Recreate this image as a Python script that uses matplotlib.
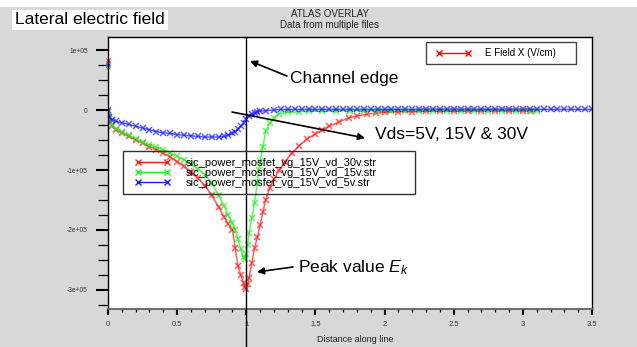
import matplotlib
matplotlib.use("Agg")
import matplotlib.pyplot as plt
from matplotlib.lines import Line2D
from matplotlib.patches import Rectangle

plt.rcParams['font.family'] = ['Liberation Sans', 'DejaVu Sans']
plt.rcParams['mathtext.fontset'] = 'custom'
plt.rcParams['mathtext.it'] = 'Liberation Sans:italic'
plt.rcParams['mathtext.rm'] = 'Liberation Sans'

# data (distance in um, field in V/cm)
red_x = [0, 0.01, 0.03, 0.06, 0.1, 0.15, 0.2, 0.25, 0.3, 0.35, 0.4, 0.45, 0.5, 0.55,
         0.6, 0.65, 0.7, 0.75, 0.8, 0.84, 0.87, 0.9, 0.92, 0.94, 0.96, 0.98, 0.99, 1.0,
         1.01, 1.02, 1.04, 1.06, 1.08, 1.1, 1.12, 1.14, 1.17, 1.2, 1.24, 1.28, 1.33,
         1.38, 1.44, 1.5, 1.55, 1.6, 1.67, 1.74, 1.8, 1.87, 1.94, 2.0, 2.1, 2.2, 2.3,
         2.4, 2.5, 2.6, 2.7, 2.8, 2.9, 3.0, 3.06]
red_y = [-0.03e5, -0.15e5, -0.27e5, -0.33e5, -0.38e5, -0.44e5, -0.50e5, -0.55e5,
         -0.61e5, -0.66e5, -0.72e5, -0.78e5, -0.86e5, -0.94e5, -1.04e5, -1.14e5,
         -1.26e5, -1.42e5, -1.62e5, -1.78e5, -1.90e5, -2.0e5, -2.3e5, -2.6e5, -2.75e5,
         -2.88e5, -2.95e5, -2.98e5, -2.9e5, -2.8e5, -2.55e5, -2.3e5, -2.12e5, -1.92e5,
         -1.7e5, -1.5e5, -1.3e5, -1.15e5, -1.0e5, -0.86e5, -0.72e5, -0.6e5, -0.48e5,
         -0.4e5, -0.33e5, -0.27e5, -0.2e5, -0.13e5, -0.1e5, -0.07e5, -0.05e5, -0.04e5,
         -0.03e5, -0.03e5, -0.02e5, -0.02e5, -0.02e5, -0.01e5, -0.01e5, -0.01e5,
         -0.01e5, -0.01e5, -0.01e5]

green_x = [0, 0.01, 0.03, 0.06, 0.1, 0.15, 0.2, 0.25, 0.3, 0.35, 0.4, 0.45, 0.5, 0.55,
           0.6, 0.65, 0.7, 0.75, 0.8, 0.84, 0.87, 0.9, 0.92, 0.94, 0.96, 0.98, 0.99,
           1.0, 1.01, 1.02, 1.04, 1.06, 1.08, 1.09, 1.1, 1.12, 1.14, 1.17, 1.2, 1.24,
           1.3, 1.38, 1.45, 1.55, 1.65, 1.75, 1.85, 1.95, 2.05, 2.15, 2.25, 2.35, 2.45,
           2.55, 2.65, 2.75, 2.85, 2.95, 3.05, 3.1]
green_y = [-0.03e5, -0.14e5, -0.25e5, -0.31e5, -0.36e5, -0.42e5, -0.48e5, -0.54e5,
           -0.58e5, -0.62e5, -0.67e5, -0.72e5, -0.77e5, -0.83e5, -0.90e5, -0.98e5,
           -1.08e5, -1.22e5, -1.42e5, -1.6e5, -1.75e5, -1.88e5, -2.0e5, -2.15e5,
           -2.32e5, -2.45e5, -2.48e5, -2.4e5, -2.25e5, -2.05e5, -1.8e5, -1.55e5,
           -1.2e5, -1.0e5, -0.85e5, -0.62e5, -0.35e5, -0.22e5, -0.14e5, -0.06e5,
           -0.04e5, -0.03e5, -0.02e5, -0.02e5, -0.01e5, -0.01e5, -0.01e5, -0.01e5,
           -0.01e5, -0.01e5, -0.01e5, -0.01e5, -0.01e5, -0.01e5, -0.01e5, -0.01e5,
           -0.01e5, -0.01e5, -0.01e5, -0.01e5]

blue_x = [0, 0.01, 0.03, 0.06, 0.1, 0.15, 0.2, 0.25, 0.3, 0.35, 0.4, 0.45, 0.5, 0.55,
          0.6, 0.65, 0.7, 0.75, 0.8, 0.84, 0.87, 0.9, 0.92, 0.94, 0.96, 0.98, 1.0,
          1.02, 1.04, 1.06, 1.08, 1.1, 1.14, 1.2, 1.25, 1.3, 1.35, 1.4, 1.45, 1.5,
          1.55, 1.6, 1.65, 1.7, 1.75, 1.8, 1.85, 1.9, 1.95, 2.0, 2.05, 2.1, 2.15, 2.2,
          2.25, 2.3, 2.35, 2.4, 2.45, 2.5, 2.55, 2.6, 2.65, 2.7, 2.75, 2.8, 2.85, 2.9,
          2.95, 3.0, 3.05, 3.1, 3.15, 3.2, 3.25, 3.3, 3.35, 3.4, 3.45, 3.5]
blue_y = [0.0, -0.12e5, -0.16e5, -0.19e5, -0.21e5, -0.24e5, -0.27e5, -0.30e5, -0.33e5,
          -0.36e5, -0.38e5, -0.39e5, -0.41e5, -0.42e5, -0.43e5, -0.44e5, -0.45e5,
          -0.45e5, -0.45e5, -0.44e5, -0.42e5, -0.39e5, -0.36e5, -0.32e5, -0.27e5,
          -0.21e5, -0.15e5, -0.1e5, -0.07e5, -0.05e5, -0.03e5, -0.02e5, -0.01e5, 0.0,
          0.01e5, 0.01e5, 0.01e5, 0.01e5, 0.01e5, 0.01e5, 0.01e5, 0.01e5, 0.01e5,
          0.01e5, 0.01e5, 0.01e5, 0.01e5, 0.01e5, 0.01e5, 0.01e5, 0.01e5, 0.01e5,
          0.01e5, 0.01e5, 0.01e5, 0.01e5, 0.01e5, 0.01e5, 0.01e5, 0.01e5, 0.01e5,
          0.01e5, 0.01e5, 0.01e5, 0.01e5, 0.01e5, 0.01e5, 0.01e5, 0.01e5, 0.01e5,
          0.01e5, 0.01e5, 0.01e5, 0.01e5, 0.01e5, 0.01e5, 0.01e5, 0.01e5, 0.01e5, 0.01e5]

# stray points at x=0
stray_y = [0.83e5, 0.79e5, 0.75e5, 0.71e5]
stray_c = ['#ff3030', '#cc33cc', '#3030ff', '#30cc30']

file_labels = ['sic_power_mosfet_vg_15V_vd_30v.str',
               'sic_power_mosfet_vg_15V_vd_15v.str',
               'sic_power_mosfet_vg_15V_vd_5v.str']
colors = ['#ff1a1a', '#22ee22', '#1a1aff']

xticks = [0, 0.5, 1, 1.5, 2, 2.5, 3, 3.5]
xticklabels = ['0', '0.5', '1', '1.5', '2', '2.5', '3', '3.5']
yticks = [1e5, 0, -1e5, -2e5, -3e5]
yticklabels = ['1e+05', '0', '-1e+05', '-2e+05', '-3e+05']
channel_edge = 1.0

W, H = 637, 347
def fx(px):
    return px / W
def fy(py):
    return 1 - py / H

fig = plt.figure(figsize=(W / 100, H / 100), dpi=100, facecolor='#d8d8d8')
fig.patches.append(Rectangle((0, fy(7)), 1, 7 / H, transform=fig.transFigure,
                             facecolor='white', edgecolor='none', zorder=0))
ax = fig.add_axes([fx(108), fy(309), fx(592) - fx(108), fy(37) - fy(309)])

ymin, ymax = -3.317e5, 1.217e5
ax.set_xlim(0, 3.5)
ax.set_ylim(ymin, ymax)

series = [(red_x, red_y), (green_x, green_y), (blue_x, blue_y)]
for (xs, ys), c, lab in zip(series, colors, file_labels):
    ax.plot(xs, ys, color=c, lw=1.1, marker='x', ms=4.5, mew=1.1,
            alpha=0.7, label=lab)

for yv, c in zip(stray_y, stray_c):
    ax.plot([0], [yv], marker='x', ms=2.5, mew=0.8, color=c, clip_on=False)

# channel edge line runs down into the margin
ax.plot([channel_edge, channel_edge], [ymax, -3.95e5], color='black', lw=1,
        clip_on=False, zorder=5)

ax.set_xticks(xticks)
ax.set_xticklabels(xticklabels, fontsize=5.5, color='#333333')
ax.set_xticks([i / 10 for i in range(36)], minor=True)
ax.set_yticks(yticks)
ax.set_yticklabels(yticklabels, fontsize=4.8, color='#333333')
ax.set_yticks([1e5 - i * 2.5e4 for i in range(18)], minor=True)
ax.tick_params(axis='y', which='major', length=8.5, width=1.5, pad=6, direction='out')
ax.tick_params(axis='y', which='minor', length=7, width=0.9, direction='out')
ax.tick_params(axis='x', which='major', length=4, width=1.5, pad=5, direction='out')
ax.tick_params(axis='x', which='minor', length=2.5, width=0.9, direction='out')
for s in ['top', 'right', 'left']:
    ax.spines[s].set_color('black')
    ax.spines[s].set_linewidth(1)
ax.spines['bottom'].set_color('#555555')
ax.spines['bottom'].set_linewidth(1.2)
ax.set_xlabel('Distance along line', fontsize=6.5, color='#222222')
ax.xaxis.set_label_coords((fx(355) - fx(108)) / (fx(592) - fx(108)), -0.095)

fig.text(fx(330), fy(14), 'ATLAS OVERLAY', fontsize=7, ha='center', va='center',
         color='#222222')
fig.text(fx(330), fy(25), 'Data from multiple files', fontsize=7, ha='center',
         va='center', color='#222222')
fig.text(fx(15), fy(20), 'Lateral electric field', fontsize=12.5, ha='left',
         va='center', bbox=dict(facecolor='white', edgecolor='none', pad=2))

# quantity legend
fig.patches.append(Rectangle((fx(426), fy(64)), fx(576) - fx(426), fy(42) - fy(64),
                             transform=fig.transFigure, facecolor='white',
                             edgecolor='#444444', lw=1, zorder=3))
qh = Line2D([], [], color='red', lw=1, marker='x', ms=4, mew=1)
leg1 = fig.legend([qh], ['E Field X (V/cm)'], loc='center left',
                  bbox_to_anchor=(fx(436), fy(53)), frameon=False, fontsize=7,
                  numpoints=2, handlelength=3.6, handletextpad=1.4, borderpad=0,
                  borderaxespad=0)
leg1.set_zorder(4)

# file legend
fig.patches.append(Rectangle((fx(123), fy(194)), fx(415) - fx(123), fy(151) - fy(194),
                             transform=fig.transFigure, facecolor='none',
                             edgecolor='#333333', lw=1, zorder=3))
fh = [Line2D([], [], color=c, lw=1, marker='x', ms=4, mew=1) for c in colors]
leg2 = fig.legend(fh, file_labels, loc='upper left',
                  bbox_to_anchor=(fx(135), fy(158)), frameon=False, fontsize=8,
                  numpoints=2, handlelength=3.2, handletextpad=1.4, borderpad=0,
                  borderaxespad=0, labelspacing=0.0)
leg2.set_zorder(4)

def d(px, py):
    return ((px - 108) / 138.3, (110 - py) / 60 * 1e5)

arrow = dict(arrowstyle='-|>', color='black', lw=1.2, mutation_scale=10,
             shrinkA=0, shrinkB=0)
ax.annotate('', xy=d(250, 61), xytext=d(287, 76), arrowprops=arrow)
ax.text(*d(290, 78), 'Channel edge', fontsize=12.5, va='center', ha='left')
ax.annotate('', xy=d(365, 138), xytext=d(232, 112), arrowprops=arrow)
ax.text(*d(375, 134), 'Vds=5V, 15V & 30V', fontsize=12.5, va='center', ha='left')
ax.annotate('', xy=d(257, 272), xytext=d(293, 267), arrowprops=arrow)
ax.text(*d(298, 268), r'Peak value $\mathit{E}_{\mathit{k}}$', fontsize=12.5,
        va='center', ha='left')

fig.savefig('out.png', dpi=100, facecolor=fig.get_facecolor())
